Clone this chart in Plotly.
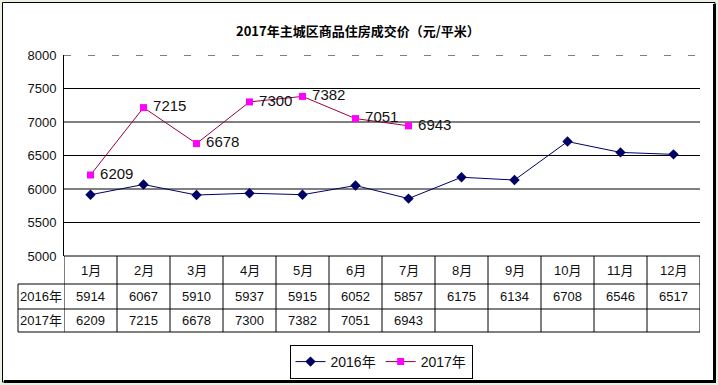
import plotly.graph_objects as go

W, H = 718, 385

title_text = "2017年主城区商品住房成交价（元/平米）"
months = ["1月", "2月", "3月", "4月", "5月", "6月", "7月", "8月", "9月", "10月", "11月", "12月"]
series_names = ["2016年", "2017年"]
values_2016 = [5914, 6067, 5910, 5937, 5915, 6052, 5857, 6175, 6134, 6708, 6546, 6517]
values_2017 = [6209, 7215, 6678, 7300, 7382, 7051, 6943]
y_ticks = [5000, 5500, 6000, 6500, 7000, 7500, 8000]

FONT = "Liberation Sans, Arial, Noto Sans CJK SC, sans-serif"


def X(px):
    return px / W


def Y(py):
    return 1 - py / H


fig = go.Figure()
fig.add_trace(go.Scatter(
    x=months, y=values_2016, name=series_names[0], mode="lines+markers",
    line=dict(color="#000066", width=1),
    marker=dict(symbol="diamond", size=8, color="#000066"),
))
fig.add_trace(go.Scatter(
    x=months[:len(values_2017)], y=values_2017, name=series_names[1], mode="lines+markers+text",
    line=dict(color="#990044", width=1),
    marker=dict(symbol="square", size=7, color="#ff00ff"),
    text=[" " + str(v) for v in values_2017], textposition="middle right",
    textfont=dict(family=FONT, size=15, color="#111111"),
))

shapes = []
# chart frame
shapes.append(dict(type="rect", xref="paper", yref="paper", x0=X(2.5), x1=X(715), y0=Y(382), y1=Y(2.5),
                   line=dict(color="black", width=1), fillcolor="white", layer="below"))
shapes.append(dict(type="line", xref="paper", yref="paper", x0=X(714.5), x1=X(714.5), y0=Y(383), y1=Y(4),
                   line=dict(color="black", width=3), layer="above"))
shapes.append(dict(type="line", xref="paper", yref="paper", x0=X(4), x1=X(716), y0=Y(381.5), y1=Y(381.5),
                   line=dict(color="black", width=3), layer="above"))
# gridlines
for t in y_ticks[1:-1]:
    shapes.append(dict(type="line", xref="x", yref="y", x0=-0.5, x1=11.5, y0=t, y1=t,
                       line=dict(color="black", width=1), layer="below"))
shapes.append(dict(type="line", xref="x", yref="y", x0=-0.5, x1=11.5, y0=y_ticks[-1], y1=y_ticks[-1],
                   line=dict(color="black", width=1, dash="7px,17px"), layer="below"))

# data table grid
row_top, row_h1, row_h2, row_bot = 256, 284, 309, 332
for i in range(len(months) + 1):
    shapes.append(dict(type="line", xref="x", yref="paper", x0=i - 0.5, x1=i - 0.5, y0=Y(row_top), y1=Y(row_bot),
                       line=dict(color="black", width=1)))
shapes.append(dict(type="line", xref="x", yref="paper", x0=-0.5, x1=11.5, y0=Y(row_top), y1=Y(row_top),
                   line=dict(color="black", width=1)))
for py in (row_h1, row_h2, row_bot):
    shapes.append(dict(type="line", xref="paper", yref="paper", x0=X(18), x1=X(700), y0=Y(py), y1=Y(py),
                       line=dict(color="black", width=1)))
shapes.append(dict(type="line", xref="paper", yref="paper", x0=X(18), x1=X(18), y0=Y(row_h1), y1=Y(row_bot),
                   line=dict(color="black", width=1)))

C = dict(showarrow=False, xanchor="center", yanchor="middle")
annotations = [dict(text="<b>" + title_text + "</b>", xref="paper", yref="paper", x=X(358), y=Y(30),
                    font=dict(family="Noto Sans CJK SC, sans-serif", size=13, color="black"), **C)]
tfont = dict(family=FONT, size=13, color="#111111")
for i, m in enumerate(months):
    annotations.append(dict(text=m, xref="x", yref="paper", x=i, y=Y((row_top + row_h1) / 2),
                            font=tfont, **C))
    annotations.append(dict(text=str(values_2016[i]), xref="x", yref="paper", x=i, y=Y((row_h1 + row_h2) / 2),
                            font=tfont, **C))
    if i < len(values_2017):
        annotations.append(dict(text=str(values_2017[i]), xref="x", yref="paper", x=i,
                                y=Y((row_h2 + row_bot) / 2), font=tfont, **C))
for name, (a, b) in zip(series_names, [(row_h1, row_h2), (row_h2, row_bot)]):
    annotations.append(dict(text=name, xref="paper", yref="paper", x=X(41), y=Y((a + b) / 2),
                            font=tfont, **C))

fig.update_layout(
    width=W, height=H,
    margin=dict(l=0, r=0, t=0, b=0, autoexpand=False),
    paper_bgcolor="#e9f2e2",
    plot_bgcolor="rgba(0,0,0,0)",
    showlegend=True,
    legend=dict(orientation="h", x=X(381), xanchor="center", y=Y(345), yanchor="top",
                bordercolor="black", borderwidth=1, bgcolor="white",
                font=dict(family=FONT, size=14, color="#111111"),
                itemwidth=30, tracegroupgap=0),
    xaxis=dict(domain=[X(64), X(700)], range=[-0.5, 11.5], type="category",
               showticklabels=False, showgrid=False, zeroline=False, showline=False, ticks=""),
    yaxis=dict(domain=[Y(256), Y(55)], range=[5000, 8000], tickvals=y_ticks,
               showgrid=False, zeroline=False, showline=True, linecolor="black", linewidth=1,
               ticks="", ticklabelstandoff=4,
               tickfont=dict(family=FONT, size=13, color="#111111")),
    shapes=shapes,
    annotations=annotations,
)

fig.write_html("out.html", config={"displayModeBar": False},
               post_script="document.body.style.margin='0';document.body.style.overflow='hidden';")
